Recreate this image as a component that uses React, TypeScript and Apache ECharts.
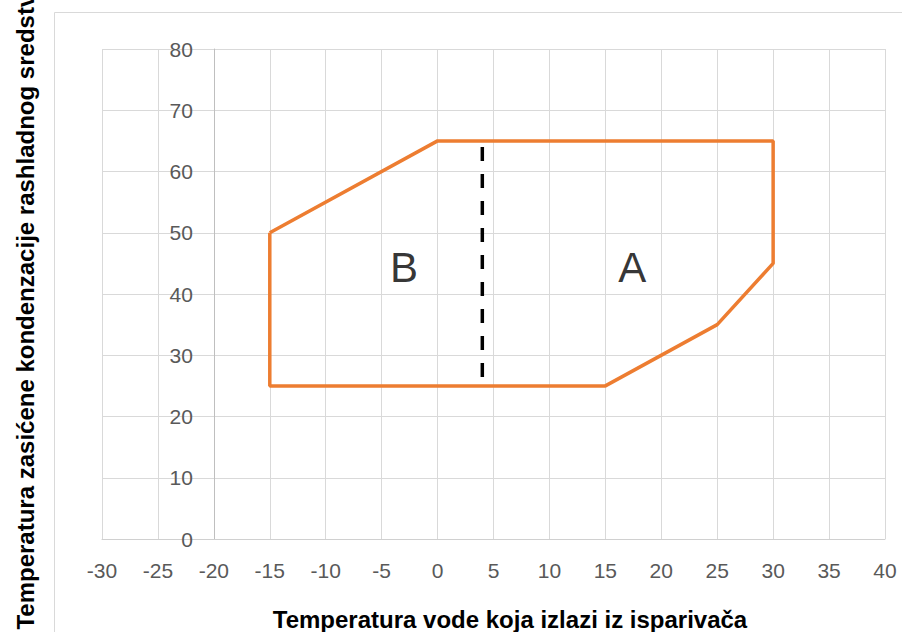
import React, { useEffect, useRef } from "react";
import * as echarts from "echarts";

// Envelope (operating map) polygon, in data units [x, y]
const envelope: [number, number][] = [
  [-15, 50],
  [0, 65],
  [30, 65],
  [30, 45],
  [25, 35],
  [15, 25],
  [-15, 25],
  [-15, 50],
];

// Dashed divider between region B and A
const divider: [number, number][] = [
  [4, 64],
  [4, 25],
];

// Region labels
const regionNames = ["B", "A"];
const regionX = [-3, 17.4];
const regionY = [44.4, 44.4];

// Axes
const xMin = -30;
const xMax = 40;
const xStep = 5;
const yMin = 0;
const yMax = 80;
const yStep = 10;
const yAxisCross = -20;

const xTitle = "Temperatura vode koja izlazi iz isparivača";
const yTitle = "Temperatura zasićene kondenzacije rashladnog sredstva";

export default function App() {
  const ref = useRef<HTMLDivElement>(null);

  useEffect(() => {
    if (!ref.current) return;
    const chart = echarts.init(ref.current, undefined, { renderer: "svg" });
    const gridLeft = 102;
    const gridRight = 17;
    const gridWidth = 902 - gridLeft - gridRight;
    const unit = gridWidth / (xMax - xMin);
    const yOffset = -(yAxisCross - xMin) * unit;

    chart.setOption({
      animation: false,
      backgroundColor: "#ffffff",
      grid: { left: gridLeft, right: gridRight, top: 49, bottom: 93 },
      xAxis: {
        type: "value",
        min: xMin,
        max: xMax,
        interval: xStep,
        axisLine: { show: true, lineStyle: { color: "#d0d0d0", width: 1 } },
        axisTick: { show: false },
        axisLabel: {
          color: "#595959",
          fontSize: 21,
          fontFamily: "Liberation Sans",
          margin: 21,
        },
        splitLine: { show: true, lineStyle: { color: "#d9d9d9", width: 1 } },
      },
      yAxis: {
        type: "value",
        min: yMin,
        max: yMax,
        interval: yStep,
        offset: yOffset,
        axisLine: { show: true, onZero: false, lineStyle: { color: "#bfbfbf", width: 1 } },
        axisTick: { show: false },
        axisLabel: {
          color: "#595959",
          fontSize: 21,
          fontFamily: "Liberation Sans",
          margin: 21,
        },
        splitLine: { show: true, lineStyle: { color: "#d9d9d9", width: 1 } },
      },
      graphic: [
        {
          type: "rect",
          shape: { x: 54.5, y: 12.5, width: 900, height: 700 },
          style: { fill: "none", stroke: "#d9d9d9", lineWidth: 1 },
          silent: true,
          z: -1,
        },
        {
          type: "text",
          x: 510,
          y: 619,
          style: {
            text: xTitle,
            fontSize: 24,
            fontWeight: "bold",
            fontFamily: "Liberation Sans",
            fill: "#000000",
            align: "center",
            verticalAlign: "middle",
          },
        },
        {
          type: "text",
          x: 25,
          y: 305,
          rotation: Math.PI / 2,
          style: {
            text: yTitle,
            fontSize: 24,
            fontWeight: "bold",
            fontFamily: "Liberation Sans",
            fill: "#000000",
            align: "center",
            verticalAlign: "middle",
          },
        },
      ],
      series: [
        {
          type: "line",
          data: envelope,
          symbol: "none",
          lineStyle: { color: "#ED7D31", width: 3.5 },
          z: 3,
        },
        {
          type: "line",
          data: divider,
          symbol: "none",
          lineStyle: { color: "#000000", width: 3.5, type: [14, 13] },
          z: 4,
        },
        {
          type: "scatter",
          data: regionNames.map((n, i) => ({ name: n, value: [regionX[i], regionY[i]] })),
          symbolSize: 1,
          itemStyle: { color: "transparent" },
          label: {
            show: true,
            position: "inside",
            formatter: "{b}",
            color: "#000000",
            fontSize: 42,
            fontFamily: "Liberation Sans",
          },
          z: 5,
        },
      ],
    });
    return () => chart.dispose();
  }, []);

  return (
    <div
      ref={ref}
      style={{ position: "fixed", left: 0, top: 0, width: 902, height: 632 }}
    />
  );
}
